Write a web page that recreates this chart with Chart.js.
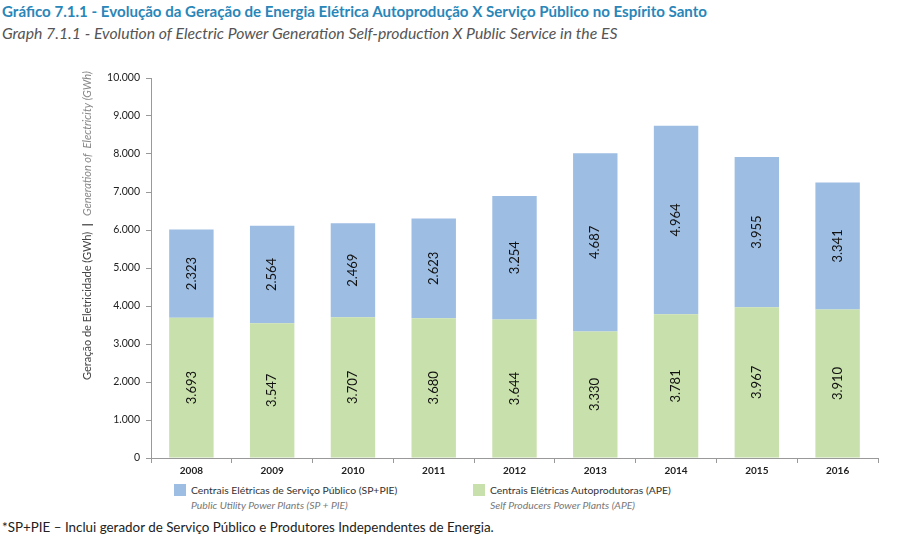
<!DOCTYPE html>
<html>
<head>
<meta charset="utf-8">
<script src="https://cdn.jsdelivr.net/npm/chart.js@4.4.0/dist/chart.umd.min.js"></script>
<style>
  body { margin: 0; background: #fff; font-family: Lato, "Open Sans", sans-serif; }
  #page { position: relative; width: 917px; height: 537px; overflow: hidden; }
  .titulo { position: absolute; left: 2px; top: 2px; font-size: 15.1px; font-weight: bold; color: #2a86b8; white-space: nowrap; }
  .subtitulo { position: absolute; left: 2px; top: 23px; font-size: 15.8px; font-style: italic; color: #555; white-space: nowrap; }
  #wrap { position: absolute; left: 0; top: 60px; width: 917px; height: 420px; }
  .leg { position: absolute; top: 483px; font-size: 10.4px; color: #333; line-height: 15px; white-space: nowrap; }
  .leg .box { position: absolute; left: 0; top: 1px; width: 12px; height: 12px; }
  .leg .txt { margin-left: 17px; }
  .leg .en { font-style: italic; color: #777; }
  .nota { position: absolute; left: 2px; top: 519px; font-size: 13.4px; color: #222; white-space: nowrap; }
</style>
</head>
<body>
<div id="page">
  <div class="titulo">Gráfico 7.1.1 - Evolução da Geração de Energia Elétrica Autoprodução X Serviço Público no Espírito Santo</div>
  <div class="subtitulo">Graph 7.1.1 - Evolution of Electric Power Generation Self-production X Public Service in the ES</div>
  <div id="wrap"><canvas id="grafico"></canvas></div>
  <div class="leg" style="left:174px">
    <div class="box" style="background:#9dbde2"></div>
    <div class="txt">Centrais Elétricas de Serviço Público (SP+PIE)<br><span class="en">Public Utility Power Plants (SP + PIE)</span></div>
  </div>
  <div class="leg" style="left:473px">
    <div class="box" style="background:#c8e0ac"></div>
    <div class="txt">Centrais Elétricas Autoprodutoras (APE)<br><span class="en">Self Producers Power Plants (APE)</span></div>
  </div>
  <div class="nota">*SP+PIE – Inclui gerador de Serviço Público e Produtores Independentes de Energia.</div>
</div>
<script>
// Dados do gráfico (GWh)
const anos = ['2008', '2009', '2010', '2011', '2012', '2013', '2014', '2015', '2016'];
const autoproducao = [3693, 3547, 3707, 3680, 3644, 3330, 3781, 3967, 3910];
const servicoPublico = [2323, 2564, 2469, 2623, 3254, 4687, 4964, 3955, 3341];
const ticksY = [0, 1000, 2000, 3000, 4000, 5000, 6000, 7000, 8000, 9000, 10000];

function formatarNumero(v) {
    return String(v).replace(/\B(?=(\d{3})+(?!\d))/g, '.');
}

// Rótulos verticais dentro das barras
const rotulosPlugin = {
    id: 'rotulos',
    afterDatasetsDraw(chart) {
        const ctx = chart.ctx;
        ctx.save();
        ctx.fillStyle = '#111';
        ctx.font = '13px Lato, "Open Sans", sans-serif';
        ctx.textAlign = 'center';
        ctx.textBaseline = 'middle';
        chart.data.datasets.forEach((ds, i) => {
            const meta = chart.getDatasetMeta(i);
            meta.data.forEach((bar, j) => {
                const cy = (bar.y + bar.base) / 2;
                ctx.save();
                ctx.translate(bar.x, cy);
                ctx.rotate(-Math.PI / 2);
                ctx.fillText(formatarNumero(ds.data[j]), 0, 0);
                ctx.restore();
            });
        });
        ctx.restore();
    }
};

// Título do eixo Y em duas partes
const tituloYPlugin = {
    id: 'tituloY',
    afterDraw(chart) {
        const ctx = chart.ctx;
        ctx.save();
        ctx.translate(87, 320);
        ctx.rotate(-Math.PI / 2);
        ctx.textBaseline = 'middle';
        ctx.textAlign = 'left';
        let x = 0;
        ctx.font = '11px Lato, "Open Sans", sans-serif';
        ctx.fillStyle = '#444';
        const p1 = 'Geração de Eletricidade (GWh)  ';
        ctx.fillText(p1, x, 0);
        x += ctx.measureText(p1).width;
        ctx.font = 'bold 11px Lato, "Open Sans", sans-serif';
        ctx.fillStyle = '#222';
        ctx.fillText('|', x, 0);
        x += ctx.measureText('|  ').width + 2;
        ctx.font = 'italic 11px Lato, "Open Sans", sans-serif';
        ctx.fillStyle = '#888';
        ctx.fillText('Generation of  Electricity (GWh)', x, 0);
        ctx.restore();
    }
};

new Chart(document.getElementById('grafico'), {
    type: 'bar',
    data: {
        labels: anos,
        datasets: [
            {
                label: 'Centrais Elétricas Autoprodutoras (APE)',
                data: autoproducao,
                backgroundColor: '#c8e0ac',
                barPercentage: 0.55,
                categoryPercentage: 1
            },
            {
                label: 'Centrais Elétricas de Serviço Público (SP+PIE)',
                data: servicoPublico,
                backgroundColor: '#9dbde2',
                barPercentage: 0.55,
                categoryPercentage: 1
            }
        ]
    },
    options: {
        responsive: true,
        maintainAspectRatio: false,
        animation: false,
        layout: { padding: { top: 18, right: 39, left: 0, bottom: 0 } },
        plugins: {
            legend: { display: false },
            tooltip: { enabled: false }
        },
        scales: {
            x: {
                stacked: true,
                border: { color: '#999' },
                grid: { drawOnChartArea: false, tickLength: 5, color: '#999', offset: true },
                ticks: {
                    color: '#222',
                    padding: 2,
                    font: { family: 'Lato, "Open Sans", sans-serif', size: 10, weight: 'bold' }
                },
                afterFit(scale) { scale.height = 22; }
            },
            y: {
                stacked: true,
                min: 0,
                max: 10000,
                afterBuildTicks(scale) { scale.ticks = ticksY.map(v => ({ value: v })); },
                border: { color: '#999' },
                grid: { drawOnChartArea: false, tickLength: 5, color: '#999' },
                ticks: {
                    color: '#222',
                    padding: 6,
                    font: { family: 'Lato, "Open Sans", sans-serif', size: 10.5 },
                    callback: v => formatarNumero(v)
                },
                afterFit(scale) { scale.width = 151; }
            }
        }
    },
    plugins: [rotulosPlugin, tituloYPlugin]
});
</script>
</body>
</html>
